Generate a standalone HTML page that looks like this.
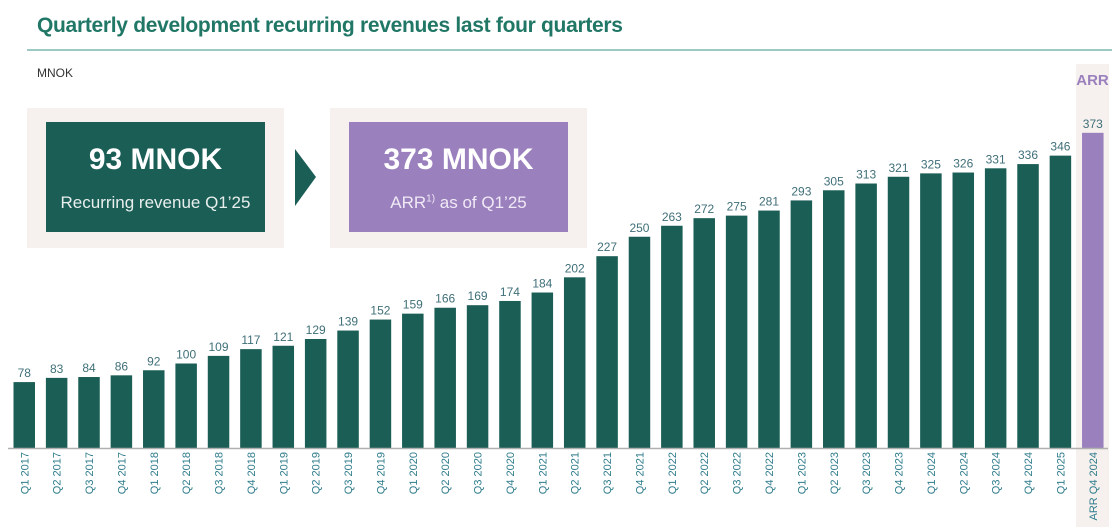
<!DOCTYPE html>
<html><head><meta charset="utf-8"><style>
body{margin:0;width:1112px;height:532px;background:#fff;font-family:"Liberation Sans",sans-serif;position:relative;overflow:hidden}
.abs{position:absolute}
</style></head><body>
<div class="abs" style="left:37px;top:14px;font-size:21px;font-weight:bold;color:#217766;letter-spacing:-0.3px">Quarterly development recurring revenues last four quarters</div>
<div class="abs" style="left:27px;top:49px;width:1085px;height:2px;background:#9cc9c3"></div>
<div class="abs" style="left:37px;top:66px;font-size:12px;color:#333">MNOK</div>
<div class="abs" style="left:1076px;top:64px;width:33px;height:463px;background:#f6f1ee"></div>
<div class="abs" style="left:1076px;top:72px;width:33px;text-align:center;font-size:15px;font-weight:bold;color:#9b80be">ARR</div>
<div class="abs" style="left:27px;top:108px;width:257px;height:140px;background:#f6f1ee"></div>
<div class="abs" style="left:46px;top:122px;width:219px;height:110px;background:#1b5e56;color:#fff;text-align:center">
<div style="font-size:30px;font-weight:bold;margin-top:21px">93 MNOK</div>
<div style="font-size:17px;margin-top:16px;color:#e8efed">Recurring revenue Q1’25</div></div>
<svg class="abs" style="left:295px;top:149px" width="22" height="58"><polygon points="0,0 21,28 0,57" fill="#1b5e56"/></svg>
<div class="abs" style="left:330px;top:108px;width:257px;height:140px;background:#f6f1ee"></div>
<div class="abs" style="left:349px;top:122px;width:219px;height:110px;background:#9b80be;color:#fff;text-align:center">
<div style="font-size:30px;font-weight:bold;margin-top:21px">373 MNOK</div>
<div style="font-size:17px;margin-top:16px;color:#f0eaf6">ARR<sup style="font-size:10px">1)</sup> as of Q1’25</div></div>
<svg id="chart" class="abs" style="left:0;top:0" width="1112" height="532"></svg>
<script>
const categories=["Q1 2017","Q2 2017","Q3 2017","Q4 2017","Q1 2018","Q2 2018","Q3 2018","Q4 2018","Q1 2019","Q2 2019","Q3 2019","Q4 2019","Q1 2020","Q2 2020","Q3 2020","Q4 2020","Q1 2021","Q2 2021","Q3 2021","Q4 2021","Q1 2022","Q2 2022","Q3 2022","Q4 2022","Q1 2023","Q2 2023","Q3 2023","Q4 2023","Q1 2024","Q2 2024","Q3 2024","Q4 2024","Q1 2025","ARR Q4 2024"];
const values=[78,83,84,86,92,100,109,117,121,129,139,152,159,166,169,174,184,202,227,250,263,272,275,281,293,305,313,321,325,326,331,336,346,373];
const isArr=[false,false,false,false,false,false,false,false,false,false,false,false,false,false,false,false,false,false,false,false,false,false,false,false,false,false,false,false,false,false,false,false,false,true];
const svg=document.getElementById('chart');const NS='http://www.w3.org/2000/svg';
const base=448,k=0.845,x0=13.5,step=32.38,bw=21.5;
const xs=i=>x0+i*step, ys=v=>base-v*k;
function mk(t,a){const e=document.createElementNS(NS,t);for(const n in a)e.setAttribute(n,a[n]);svg.appendChild(e);return e;}
values.forEach((v,i)=>{
 const r=mk('rect',{x:xs(i),y:ys(v),width:bw,height:base-ys(v),fill:isArr[i]?'#9b80be':'#1b5e56'});
 
 
 const t=mk('text',{x:xs(i)+bw/2,y:ys(v)-5,'text-anchor':'middle','font-size':12,fill:'#3f6f78'});t.textContent=v;
 
 
 const c=mk('text',{x:0,y:0,'text-anchor':'end','font-size':11,fill:'#2f7c8c',transform:`translate(${xs(i)+bw/2+4},452) rotate(-90)`});c.textContent=categories[i];
 
 
});
const ax=mk('line',{x1:8,x2:1108,y1:base+0.5,y2:base+0.5,stroke:'#b0b0b0','stroke-width':1.5});


</script>
</body></html>
